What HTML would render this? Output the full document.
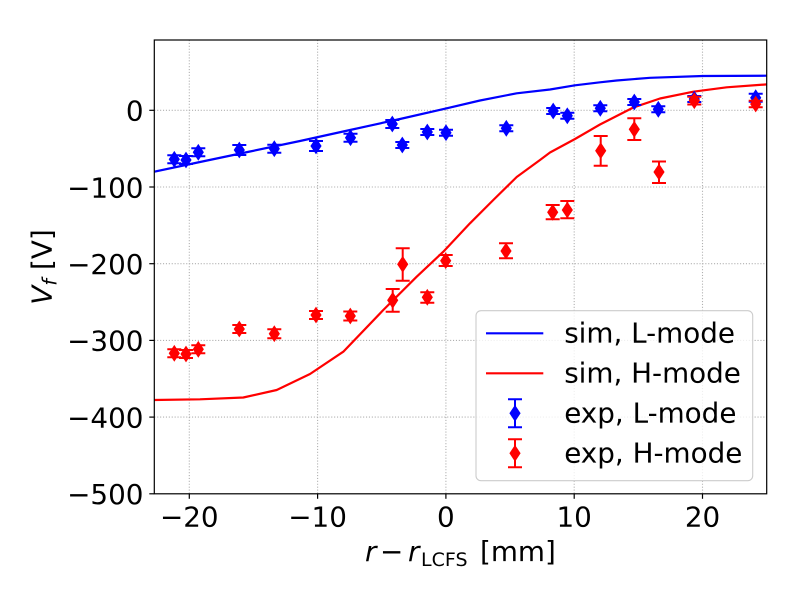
<!DOCTYPE html>
<html>
<head>
<meta charset="utf-8">
<style>
html,body{margin:0;padding:0;background:#fff;}
svg{display:block;}
text{font-family:"DejaVu Sans","Liberation Sans",sans-serif;fill:#000;}
</style>
</head>
<body>
<svg width="797" height="598" viewBox="0 0 797 598" xmlns="http://www.w3.org/2000/svg">
<defs>
<clipPath id="ax"><rect x="154.3" y="40" width="612.4" height="453.8"/></clipPath>
</defs>
<rect x="0" y="0" width="797" height="598" fill="#fff"/>

<!-- grid -->
<g stroke="#b0b0b0" stroke-width="1.1" stroke-dasharray="1.1 1.8" fill="none">
<line x1="189.3" y1="40" x2="189.3" y2="493.8"/>
<line x1="317.6" y1="40" x2="317.6" y2="493.8"/>
<line x1="445.9" y1="40" x2="445.9" y2="493.8"/>
<line x1="574.2" y1="40" x2="574.2" y2="493.8"/>
<line x1="702.5" y1="40" x2="702.5" y2="493.8"/>
<line x1="154.3" y1="110.3" x2="766.7" y2="110.3"/>
<line x1="154.3" y1="187" x2="766.7" y2="187"/>
<line x1="154.3" y1="263.7" x2="766.7" y2="263.7"/>
<line x1="154.3" y1="340.4" x2="766.7" y2="340.4"/>
<line x1="154.3" y1="417.1" x2="766.7" y2="417.1"/>
</g>

<!-- sim lines -->
<g clip-path="url(#ax)" fill="none" stroke-width="2.2" stroke-linejoin="round">
<path stroke="#0000ff" d="M152,172.2 L200,162 L250,151.5 L300,141 L350,130 L400,119 L446.7,108.3 L480,100.5 L516.7,93.3 L550,89.5 L575,85.3 L600,82.3 L616.7,80.5 L650,77.8 L702.7,76 L768,75.7"/>
<path stroke="#ff0000" d="M152,400 L200,399.3 L243.3,397.5 L276.7,390 L310,374 L343.3,351.7 L383.3,310 L416.7,276.7 L443.3,251.7 L470,223.3 L493.3,200 L516.7,177 L540,160 L550,152.5 L575,139 L600,124.5 L633.3,107.5 L660,98.5 L693.3,91.7 L726.7,87.3 L768,84.3"/>
</g>

<!-- exp L-mode -->
<g fill="#0000ff" stroke="#0000ff">
<g stroke-width="2" fill="none">
<path d="M174.3,155.3V163.3M167.3,155.3H181.3M167.3,163.3H181.3"/>
<path d="M186,156V164M179,156H193M179,164H193"/>
<path d="M198.3,148.3V156.3M191.3,148.3H205.3M191.3,156.3H205.3"/>
<path d="M239.3,145V155M232.3,145H246.3M232.3,155H246.3"/>
<path d="M274.3,144.7V152.7M267.3,144.7H281.3M267.3,152.7H281.3"/>
<path d="M316,141V151M309,141H323M309,151H323"/>
<path d="M350.5,133.7V141.7M343.5,133.7H357.5M343.5,141.7H357.5"/>
<path d="M392.3,120V128M385.3,120H399.3M385.3,128H399.3"/>
<path d="M402.3,142V148M395.3,142H409.3M395.3,148H409.3"/>
<path d="M427.3,129V135M420.3,129H434.3M420.3,135H434.3"/>
<path d="M446,129.7V135.7M439,129.7H453M439,135.7H453"/>
<path d="M506.3,125.3V131.3M499.3,125.3H513.3M499.3,131.3H513.3"/>
<path d="M553.2,108V114M546.2,108H560.2M546.2,114H560.2"/>
<path d="M567.3,112.8V118.8M560.3,112.8H574.3M560.3,118.8H574.3"/>
<path d="M600.3,105.3V111.3M593.3,105.3H607.3M593.3,111.3H607.3"/>
<path d="M634.3,99V105M627.3,99H641.3M627.3,105H641.3"/>
<path d="M658.3,106.3V112.3M651.3,106.3H665.3M651.3,112.3H665.3"/>
<path d="M694.3,96V102M687.3,96H701.3M687.3,102H701.3"/>
<path d="M755.7,93.7V101.7M748.7,93.7H762.7M748.7,101.7H762.7"/>
</g>
<g stroke-width="1">
<path d="M174.3,151.8l5,7.5l-5,7.5l-5,-7.5z"/>
<path d="M186,152.5l5,7.5l-5,7.5l-5,-7.5z"/>
<path d="M198.3,144.8l5,7.5l-5,7.5l-5,-7.5z"/>
<path d="M239.3,142.5l5,7.5l-5,7.5l-5,-7.5z"/>
<path d="M274.3,141.2l5,7.5l-5,7.5l-5,-7.5z"/>
<path d="M316,138.5l5,7.5l-5,7.5l-5,-7.5z"/>
<path d="M350.5,130.2l5,7.5l-5,7.5l-5,-7.5z"/>
<path d="M392.3,116.5l5,7.5l-5,7.5l-5,-7.5z"/>
<path d="M402.3,137.5l5,7.5l-5,7.5l-5,-7.5z"/>
<path d="M427.3,124.5l5,7.5l-5,7.5l-5,-7.5z"/>
<path d="M446,125.2l5,7.5l-5,7.5l-5,-7.5z"/>
<path d="M506.3,120.8l5,7.5l-5,7.5l-5,-7.5z"/>
<path d="M553.2,103.5l5,7.5l-5,7.5l-5,-7.5z"/>
<path d="M567.3,108.3l5,7.5l-5,7.5l-5,-7.5z"/>
<path d="M600.3,100.8l5,7.5l-5,7.5l-5,-7.5z"/>
<path d="M634.3,94.5l5,7.5l-5,7.5l-5,-7.5z"/>
<path d="M658.3,101.8l5,7.5l-5,7.5l-5,-7.5z"/>
<path d="M694.3,91.5l5,7.5l-5,7.5l-5,-7.5z"/>
<path d="M755.7,90.2l5,7.5l-5,7.5l-5,-7.5z"/>
</g>
</g>

<!-- exp H-mode -->
<g fill="#ff0000" stroke="#ff0000">
<g stroke-width="2" fill="none">
<path d="M174.3,349.3V357.3M167.3,349.3H181.3M167.3,357.3H181.3"/>
<path d="M186,350V358M179,350H193M179,358H193"/>
<path d="M198.3,345.3V353.3M191.3,345.3H205.3M191.3,353.3H205.3"/>
<path d="M239.3,325V333M232.3,325H246.3M232.3,333H246.3"/>
<path d="M274.3,329.2V338.2M267.3,329.2H281.3M267.3,338.2H281.3"/>
<path d="M316,311V319M309,311H323M309,319H323"/>
<path d="M350.3,311.5V320.5M343.3,311.5H357.3M343.3,320.5H357.3"/>
<path d="M392.7,289V311.7M385.7,289H399.7M385.7,311.7H399.7"/>
<path d="M402.7,248.3V280.7M395.7,248.3H409.7M395.7,280.7H409.7"/>
<path d="M427.3,292.3V302.7M420.3,292.3H434.3M420.3,302.7H434.3"/>
<path d="M445.7,255V266M438.7,255H452.7M438.7,266H452.7"/>
<path d="M506,243.3V258.3M499,243.3H513M499,258.3H513"/>
<path d="M552.7,205V219.3M545.7,205H559.7M545.7,219.3H559.7"/>
<path d="M567.3,201V218.3M560.3,201H574.3M560.3,218.3H574.3"/>
<path d="M600.7,136V165.7M593.7,136H607.7M593.7,165.7H607.7"/>
<path d="M634.3,118.3V140M627.3,118.3H641.3M627.3,140H641.3"/>
<path d="M659,161.5V183M652,161.5H666M652,183H666"/>
<path d="M694.3,96.7V104.5M687.3,96.7H701.3M687.3,104.5H701.3"/>
<path d="M755.7,100.7V107.3M748.7,100.7H762.7M748.7,107.3H762.7"/>
</g>
<g stroke-width="1">
<path d="M174.3,345.8l5,7.5l-5,7.5l-5,-7.5z"/>
<path d="M186,346.5l5,7.5l-5,7.5l-5,-7.5z"/>
<path d="M198.3,341.8l5,7.5l-5,7.5l-5,-7.5z"/>
<path d="M239.3,321.5l5,7.5l-5,7.5l-5,-7.5z"/>
<path d="M274.3,326.2l5,7.5l-5,7.5l-5,-7.5z"/>
<path d="M316,307.5l5,7.5l-5,7.5l-5,-7.5z"/>
<path d="M350.3,308.5l5,7.5l-5,7.5l-5,-7.5z"/>
<path d="M392.7,292.8l5,7.5l-5,7.5l-5,-7.5z"/>
<path d="M402.7,256.8l5,7.5l-5,7.5l-5,-7.5z"/>
<path d="M427.3,289.8l5,7.5l-5,7.5l-5,-7.5z"/>
<path d="M445.7,253.2l5,7.5l-5,7.5l-5,-7.5z"/>
<path d="M506,243.5l5,7.5l-5,7.5l-5,-7.5z"/>
<path d="M552.7,204.8l5,7.5l-5,7.5l-5,-7.5z"/>
<path d="M567.3,202.5l5,7.5l-5,7.5l-5,-7.5z"/>
<path d="M600.7,143.2l5,7.5l-5,7.5l-5,-7.5z"/>
<path d="M634.3,121.8l5,7.5l-5,7.5l-5,-7.5z"/>
<path d="M659,164.5l5,7.5l-5,7.5l-5,-7.5z"/>
<path d="M694.3,93.2l5,7.5l-5,7.5l-5,-7.5z"/>
<path d="M755.7,96.5l5,7.5l-5,7.5l-5,-7.5z"/>
</g>
</g>

<!-- spines -->
<rect x="154.3" y="40" width="612.4" height="453.8" fill="none" stroke="#000" stroke-width="1.2"/>

<!-- ticks -->
<g stroke="#000" stroke-width="1.2">
<line x1="189.3" y1="493.8" x2="189.3" y2="498.8"/>
<line x1="317.6" y1="493.8" x2="317.6" y2="498.8"/>
<line x1="445.9" y1="493.8" x2="445.9" y2="498.8"/>
<line x1="574.2" y1="493.8" x2="574.2" y2="498.8"/>
<line x1="702.5" y1="493.8" x2="702.5" y2="498.8"/>
<line x1="149.3" y1="110.3" x2="154.3" y2="110.3"/>
<line x1="149.3" y1="187" x2="154.3" y2="187"/>
<line x1="149.3" y1="263.7" x2="154.3" y2="263.7"/>
<line x1="149.3" y1="340.4" x2="154.3" y2="340.4"/>
<line x1="149.3" y1="417.1" x2="154.3" y2="417.1"/>
<line x1="149.3" y1="493.8" x2="154.3" y2="493.8"/>
</g>

<g font-size="27.8" text-anchor="middle">
<text x="189.3" y="526.5">−20</text>
<text x="317.6" y="526.5">−10</text>
<text x="445.9" y="526.5">0</text>
<text x="574.2" y="526.5">10</text>
<text x="702.5" y="526.5">20</text>
</g>
<g font-size="27.8" text-anchor="end">
<text x="143.5" y="120.6">0</text>
<text x="143.5" y="197.3">−100</text>
<text x="143.5" y="274">−200</text>
<text x="143.5" y="350.7">−300</text>
<text x="143.5" y="427.4">−400</text>
<text x="143.5" y="504.1">−500</text>
</g>

<!-- axis labels -->
<text y="561" font-size="27.8"><tspan x="365" font-style="italic">r</tspan><tspan x="380">−</tspan><tspan x="408" font-style="italic">r</tspan><tspan x="421" font-size="19" dy="5">LCFS</tspan><tspan x="480" dy="-5">[mm]</tspan></text>

<text transform="translate(51.5,267) rotate(-90)" font-size="27.8" text-anchor="middle"><tspan font-style="italic">V</tspan><tspan font-style="italic" font-size="19.5" dy="5">f</tspan><tspan dy="-5"> [V]</tspan></text>

<!-- legend -->
<rect x="476" y="310.7" width="276.7" height="170" rx="5" ry="5" fill="#fff" fill-opacity="0.8" stroke="#cccccc" stroke-width="1.1"/>
<line x1="486" y1="333.3" x2="543.3" y2="333.3" stroke="#0000ff" stroke-width="2.2"/>
<line x1="486" y1="373.3" x2="543.3" y2="373.3" stroke="#ff0000" stroke-width="2.2"/>
<g stroke="#0000ff" fill="#0000ff">
<path d="M515,399.3V427.3M508,399.3H522M508,427.3H522" stroke-width="2" fill="none"/>
<path d="M515,405.8l5,7.5l-5,7.5l-5,-7.5z" stroke-width="1"/>
</g>
<g stroke="#ff0000" fill="#ff0000">
<path d="M515,439.3V467.3M508,439.3H522M508,467.3H522" stroke-width="2" fill="none"/>
<path d="M515,445.8l5,7.5l-5,7.5l-5,-7.5z" stroke-width="1"/>
</g>
<g font-size="27.8">
<text x="564.2" y="342.5">sim, L-mode</text>
<text x="564.2" y="382.5">sim, H-mode</text>
<text x="564.2" y="422.5">exp, L-mode</text>
<text x="564.2" y="462.5">exp, H-mode</text>
</g>
</svg>
</body>
</html>
